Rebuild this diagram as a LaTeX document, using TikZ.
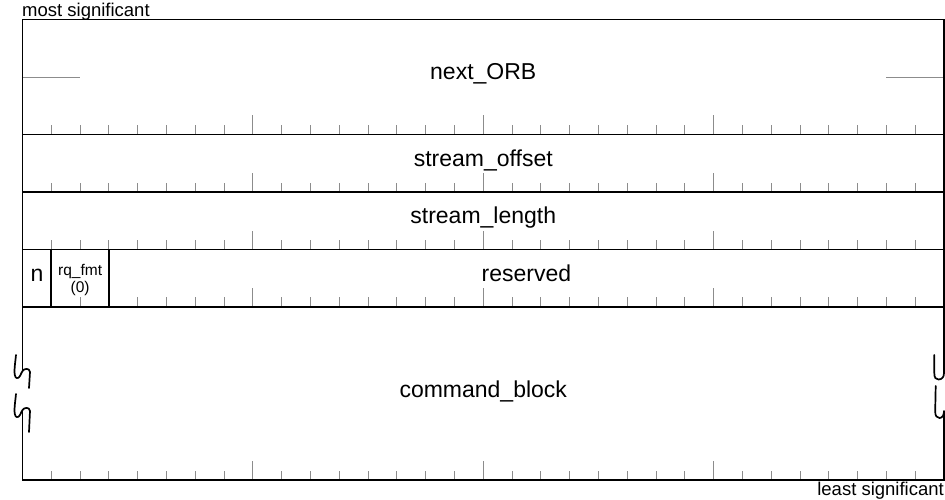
\documentclass[tikz,border=0pt]{standalone}
\usepackage{fontspec}
\setmainfont{Liberation Sans}
\definecolor{tickgray}{HTML}{8C8C8C}
\begin{document}
\begin{tikzpicture}[x=1pt,y=-1pt,
  frame/.style={line width=1.7pt,black},
  tickline/.style={line width=0.9pt,tickgray},
  breakline/.style={line width=1.7pt,black,line cap=round,line join=round},
  bigtext/.style={font=\fontsize{23}{27}\selectfont,inner sep=0pt,anchor=base},
  smalltext/.style={font=\fontsize{15.5}{18}\selectfont,inner sep=0pt,anchor=base},
  edgetext/.style={font=\fontsize{18.5}{21}\selectfont,inner sep=0pt}]
\useasboundingbox (0,0) rectangle (945,500);

% bit ticks along the bottom of every row (long ticks on byte boundaries)
\foreach \yy in {134.5,192,249.5,306.7,480}{
  \foreach \k in {1,...,31}{
    \pgfmathsetmacro\tx{22.5+28.797*\k}
    \pgfmathsetmacro\tlen{ifthenelse(mod(\k,8)==0,19,9.5)}
    \draw[tickline] (\tx,\yy) -- ++(0,-\tlen);
  }
}

% half-word marks in the middle of next_ORB
\draw[tickline] (22.5,77) -- (80.1,77);
\draw[tickline] (886.4,77) -- (944,77);

% row separators
\foreach \yy in {134.5,192,249.5,306.7}
  \draw[frame] (22.5,\yy) -- (944,\yy);

% field dividers in the reserved row
\draw[frame] (51.3,249.5) -- (51.3,306.7);
\draw[frame] (108.9,249.5) -- (108.9,306.7);

% outer frame, broken on both sides across command_block
\draw[frame,line join=miter] (22.5,371) -- (22.5,19.5) -- (944,19.5) -- (944,373);
\draw[frame,line join=miter] (22.5,410) -- (22.5,480) -- (944,480) -- (944,411);

% break marks, left side
\draw[breakline] (16,355) .. controls (15,365) and (13,376) .. (16.5,378)
  .. controls (19.5,379.5) and (21,373) .. (22.5,371)
  .. controls (24,368.5) and (29.5,367.5) .. (30,372) -- (29,388);
\draw[breakline] (16,394) .. controls (15,404) and (13,415) .. (16.5,417)
  .. controls (19.5,418.5) and (21,412) .. (22.5,410)
  .. controls (24,407.5) and (29.5,406.5) .. (30,411) -- (29,432);

% break marks, right side
\draw[breakline] (934.3,355) -- (934.3,373)
  .. controls (934.3,378) and (936,379.5) .. (938.5,379.5)
  .. controls (942,379.5) and (944,377) .. (944,373);
\draw[breakline] (935.7,386) -- (935.2,411)
  .. controls (935,416) and (937,418) .. (939.5,418)
  .. controls (942.5,418) and (944,415) .. (944,411);

% labels
\node[edgetext,anchor=base west] (msb) at (22,16.5) {most significant};
\node[edgetext,anchor=base east] (lsb) at (944,495) {least significant};
\node[bigtext] (nextorb) at (483.25,80) {next\_ORB};
\node[bigtext] (soffset) at (483.25,166) {stream\_offset};
\node[bigtext] (slength) at (483.25,223.5) {stream\_length};
\node[bigtext] (resv) at (526.4,281) {reserved};
\node[bigtext] (nbit) at (36.9,281.5) {n};
\node[smalltext] (rqfmt) at (80.1,275) {rq\_fmt};
\node[smalltext] (rqval) at (80.1,292.5) {(0)};
\node[bigtext] (cmdblk) at (483.25,397) {command\_block};
\end{tikzpicture}
\end{document}
